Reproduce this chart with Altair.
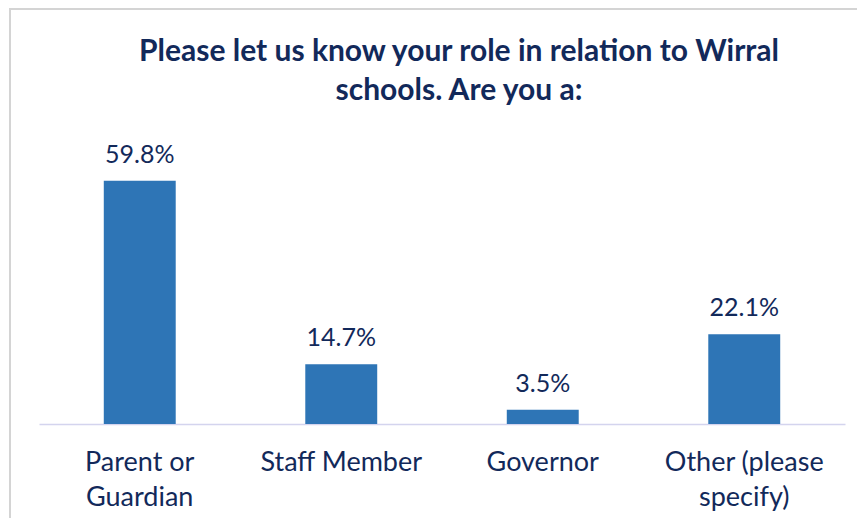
import altair as alt
import pandas as pd

categories = ["Parent or\nGuardian", "Staff Member", "Governor", "Other (please\nspecify)"]
values = [59.8, 14.7, 3.5, 22.1]
labels = ["59.8%", "14.7%", "3.5%", "22.1%"]
title_lines = ["Please let us know your role in relation to Wirral", "schools. Are you a:"]

df = pd.DataFrame({"role": categories, "pct": values, "label": labels})

FONT = "Lato"
NAVY = "#12295a"
BLUE = "#2e75b6"

x = alt.X("role:N", sort=categories,
          scale=alt.Scale(paddingInner=0.643, paddingOuter=0.3215),
          axis=alt.Axis(title=None, labelAngle=0, labelFontSize=27, labelFont=FONT,
                        labelColor=NAVY, labelLineHeight=35, labelPadding=25,
                        labelExpr="split(datum.label, '\\n')",
                        ticks=False, domainColor="#d4d4ee", domainWidth=1.5))
y = alt.Y("pct:Q", scale=alt.Scale(domain=[0, 60]), axis=None)

base = alt.Chart(df)
bars = base.mark_bar(color=BLUE).encode(x=x, y=y)
text = base.mark_text(font=FONT, fontSize=25, color=NAVY, baseline="alphabetic", dy=-18).encode(
    x=x, y=y, text="label:N")

dummy = alt.Chart(alt.Data(values=[{}]))
border = dummy.mark_rect(fillOpacity=0, stroke="#d4d4d4", strokeWidth=2).encode(
    x=alt.value(-29), x2=alt.value(900), y=alt.value(-171), y2=alt.value(600))
title = dummy.mark_text(font=FONT, fontSize=30, fontWeight="bold", color=NAVY,
                        baseline="alphabetic", align="center", lineHeight=39).encode(
    x=alt.value(420), y=alt.value(-119), text=alt.value(title_lines))

chart = alt.layer(border, bars, text, title).properties(
    width=806, height=244,
    autosize=alt.AutoSizeParams(type="none"),
    padding={"left": 31, "top": 172, "right": 12, "bottom": 94},
).configure_view(stroke=None)

chart.save("out.html", embed_options={"renderer": "svg", "actions": False})
